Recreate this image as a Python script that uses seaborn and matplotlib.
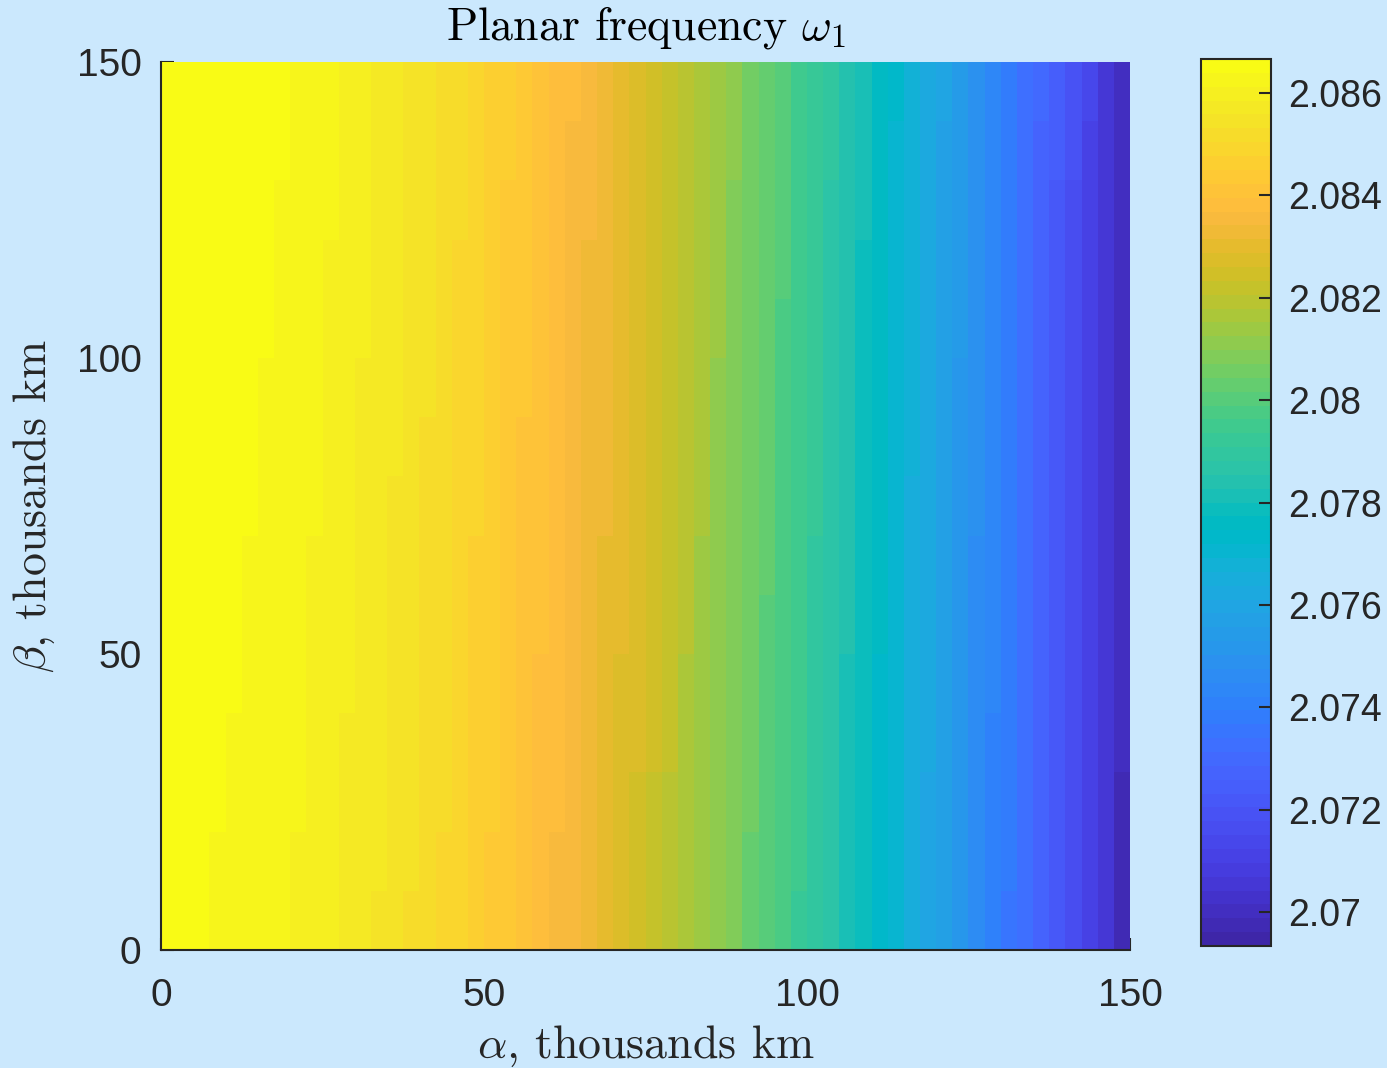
import numpy as np
import pandas as pd
import matplotlib
matplotlib.use("Agg")
import matplotlib.pyplot as plt
from matplotlib.colors import ListedColormap
from matplotlib.ticker import FuncFormatter
import seaborn as sns

# ---------------- data ----------------
alpha_km = [1.25, 3.75, 6.25, 8.75, 11.25, 13.75, 16.25, 18.75, 21.25, 23.75,
            26.25, 28.75, 31.25, 33.75, 36.25, 38.75, 41.25, 43.75, 46.25, 48.75,
            51.25, 53.75, 56.25, 58.75, 61.25, 63.75, 66.25, 68.75, 71.25, 73.75,
            76.25, 78.75, 81.25, 83.75, 86.25, 88.75, 91.25, 93.75, 96.25, 98.75,
            101.25, 103.75, 106.25, 108.75, 111.25, 113.75, 116.25, 118.75, 121.25, 123.75,
            126.25, 128.75, 131.25, 133.75, 136.25, 138.75, 141.25, 143.75, 146.25, 148.75]
omega_along_alpha = [2.08660, 2.08657, 2.08653, 2.08649, 2.08645, 2.08640, 2.08635, 2.08629, 2.08622, 2.08613,
                     2.08603, 2.08592, 2.08581, 2.08569, 2.08557, 2.08543, 2.08528, 2.08513, 2.08496, 2.08478,
                     2.08459, 2.08440, 2.08420, 2.08400, 2.08378, 2.08356, 2.08333, 2.08315, 2.08292, 2.08268,
                     2.08242, 2.08214, 2.08184, 2.08153, 2.08120, 2.08087, 2.08054, 2.08019, 2.07983, 2.07947,
                     2.07910, 2.07871, 2.07832, 2.07791, 2.07750, 2.07707, 2.07663, 2.07618, 2.07572, 2.07525,
                     2.07477, 2.07428, 2.07378, 2.07327, 2.07275, 2.07222, 2.07167, 2.07112, 2.07055, 2.06997]
beta_km = [145, 135, 125, 115, 105, 95, 85, 75, 65, 55, 45, 35, 25, 15, 5]
omega_beta_shift = [0.000126, 0.000108, 0.000090, 0.000072, 0.000054, 0.000036, 0.000018, 0.0,
                    -0.000018, -0.000036, -0.000054, -0.000072, -0.000090, -0.000108, -0.000126]
axis_ticks = [0, 50, 100, 150]
cbar_ticks = [2.070, 2.072, 2.074, 2.076, 2.078, 2.080, 2.082, 2.084, 2.086]
clim = (2.06934, 2.08666)

# ---------------- style ----------------
parula64 = [
    [0.2422, 0.1504, 0.6603], [0.2504, 0.1650, 0.7076], [0.2578, 0.1818, 0.7511], [0.2647, 0.1978, 0.7952],
    [0.2706, 0.2147, 0.8364], [0.2751, 0.2342, 0.8710], [0.2783, 0.2559, 0.8991], [0.2803, 0.2782, 0.9221],
    [0.2813, 0.3006, 0.9414], [0.2810, 0.3228, 0.9579], [0.2795, 0.3447, 0.9717], [0.2760, 0.3667, 0.9829],
    [0.2699, 0.3892, 0.9906], [0.2602, 0.4123, 0.9952], [0.2440, 0.4358, 0.9988], [0.2206, 0.4603, 0.9973],
    [0.1963, 0.4847, 0.9892], [0.1834, 0.5074, 0.9798], [0.1786, 0.5289, 0.9682], [0.1764, 0.5499, 0.9520],
    [0.1687, 0.5703, 0.9359], [0.1540, 0.5902, 0.9218], [0.1460, 0.6091, 0.9079], [0.1380, 0.6276, 0.8973],
    [0.1248, 0.6459, 0.8883], [0.1113, 0.6635, 0.8763], [0.0952, 0.6798, 0.8598], [0.0689, 0.6948, 0.8394],
    [0.0297, 0.7082, 0.8163], [0.0036, 0.7203, 0.7917], [0.0067, 0.7312, 0.7660], [0.0433, 0.7411, 0.7394],
    [0.0964, 0.7500, 0.7120], [0.1408, 0.7584, 0.6842], [0.1717, 0.7670, 0.6554], [0.1938, 0.7758, 0.6251],
    [0.2161, 0.7843, 0.5923], [0.2470, 0.7918, 0.5567], [0.2906, 0.7973, 0.5188], [0.3406, 0.8008, 0.4789],
    [0.3909, 0.8029, 0.4354], [0.4456, 0.8024, 0.3909], [0.5044, 0.7993, 0.3480], [0.5616, 0.7942, 0.3045],
    [0.6174, 0.7876, 0.2612], [0.6720, 0.7793, 0.2227], [0.7242, 0.7698, 0.1910], [0.7738, 0.7598, 0.1646],
    [0.8203, 0.7498, 0.1535], [0.8634, 0.7406, 0.1596], [0.9035, 0.7330, 0.1774], [0.9393, 0.7288, 0.2100],
    [0.9728, 0.7298, 0.2394], [0.9956, 0.7434, 0.2371], [0.9970, 0.7659, 0.2199], [0.9952, 0.7893, 0.2028],
    [0.9892, 0.8136, 0.1885], [0.9786, 0.8386, 0.1766], [0.9676, 0.8639, 0.1643], [0.9610, 0.8890, 0.1537],
    [0.9597, 0.9135, 0.1423], [0.9628, 0.9373, 0.1265], [0.9691, 0.9606, 0.1064], [0.9769, 0.9839, 0.0805]]
cmap = ListedColormap(parula64, name="parula")

bg = "#CBE8FD"
fg = "#262626"
plt.rcParams["font.family"] = ["Liberation Sans", "DejaVu Sans"]
plt.rcParams["mathtext.fontset"] = "cm"
plt.rcParams["axes.unicode_minus"] = False

grid = pd.DataFrame(np.add.outer(np.array(omega_beta_shift), np.array(omega_along_alpha)),
                    index=beta_km, columns=alpha_km)

fig = plt.figure(figsize=(13.87, 10.68), dpi=100, facecolor=bg)
ax = fig.add_axes([0.1161, 0.1105, 0.6986, 0.8315])
cax = fig.add_axes([0.8659, 0.1142, 0.0505, 0.8305])

sns.heatmap(grid, ax=ax, cbar_ax=cax, cmap=cmap, vmin=clim[0], vmax=clim[1],
            xticklabels=False, yticklabels=False)

# axis scales: each heatmap cell spans one grid step in km
dx = alpha_km[1] - alpha_km[0]
dy = beta_km[0] - beta_km[1]
nrows = len(beta_km)
ax.set_axisbelow(True)
ax.set_xticks([t / dx for t in axis_ticks])
ax.set_xticklabels([str(t) for t in axis_ticks])
ax.set_yticks([nrows - t / dy for t in axis_ticks])
ax.set_yticklabels([str(t) for t in axis_ticks], rotation=0)
ax.tick_params(axis="both", direction="in", length=9, width=1.5, colors=fg,
               labelsize=28, labelcolor=fg)
ax.tick_params(axis="x", pad=20)
ax.tick_params(axis="y", pad=14)
for side in ["left", "bottom"]:
    ax.spines[side].set_visible(True)
    ax.spines[side].set_color(fg)
    ax.spines[side].set_linewidth(1.5)
for side in ["top", "right"]:
    ax.spines[side].set_visible(False)

serif = ["cmr10"]
ax.set_title(r"Planar frequency $\omega_1$", fontsize=33, color="black", pad=16,
             fontfamily=serif)
ax.set_xlabel(r"$\alpha$, thousands km", fontsize=33, color=fg, labelpad=7,
              fontfamily=serif)
ax.set_ylabel(r"$\beta$, thousands km", fontsize=33, color=fg, labelpad=14,
              fontfamily=serif)

cbar = ax.collections[0].colorbar
cbar.set_ticks(cbar_ticks)
cax.yaxis.set_major_formatter(FuncFormatter(lambda v, p: "%g" % round(v, 3)))
cax.tick_params(direction="in", length=9, width=1.5, colors=fg, labelsize=27,
                labelcolor=fg, pad=12)
cbar.outline.set_edgecolor(fg)
cbar.outline.set_linewidth(1.5)

fig.savefig("out.png", dpi=100, facecolor=bg)
